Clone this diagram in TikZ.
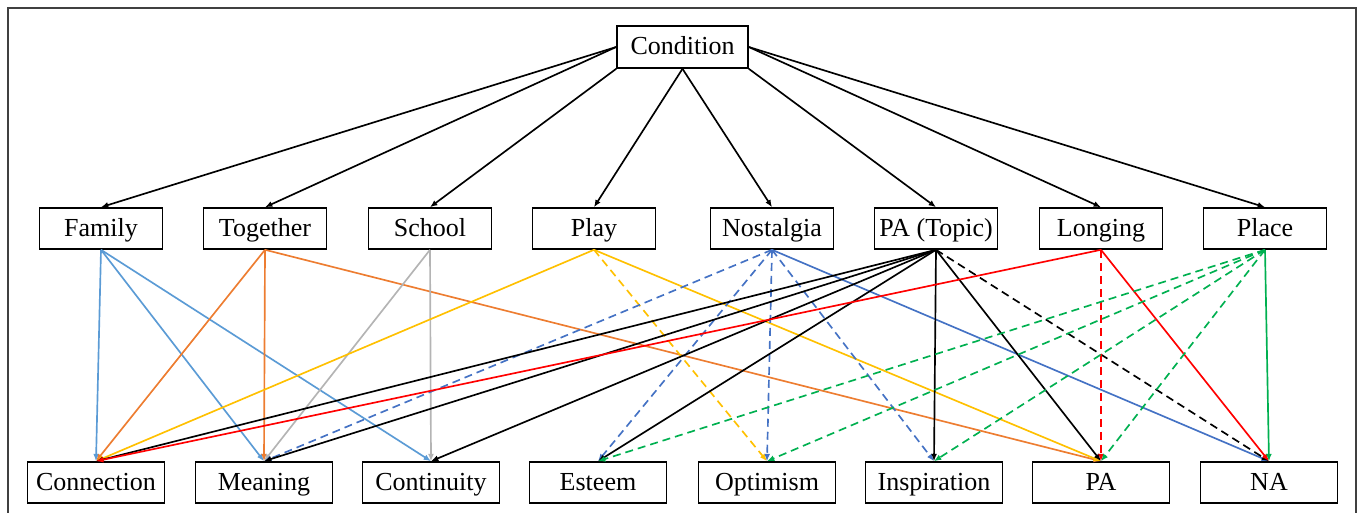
\documentclass[tikz,border=0pt]{standalone}
\usepackage{fontspec}
\setmainfont{Liberation Serif}
\usetikzlibrary{arrows.meta}
\definecolor{cFam}{HTML}{5B9BD5}
\definecolor{cOra}{HTML}{ED7D31}
\definecolor{cGray}{HTML}{B4B4B4}
\definecolor{cGold}{HTML}{FFC000}
\definecolor{cBlue}{HTML}{4472C4}
\definecolor{cRed}{HTML}{FF0000}
\definecolor{cGreen}{HTML}{00B050}
\begin{document}
\begin{tikzpicture}[x=0.75pt,y=-0.75pt,
  box/.style={draw, line width=1.2pt, inner sep=0pt, minimum height=30.75pt,
    text height=16pt, text depth=4pt, font=\fontsize{19.5}{23}\selectfont},
  mid/.style={box, minimum width=92.25pt},
  bot/.style={box, minimum width=102.75pt},
  arr/.style={line width=1.25pt, -{Latex[length=5.5pt,width=4.5pt]}},
  dsh/.style={dash pattern=on 6pt off 3.75pt}]
\useasboundingbox (0,0) rectangle (1364,513);
\draw[line width=1.6pt, black!75] (8,8) rectangle (1356,540);

\node[box, minimum width=98.25pt, minimum height=31.5pt] (cond) at (682.5,47) {Condition};

\node[mid] (family) at (101,228.5) {Family};
\node[mid] (together) at (265,228.5) {Together};
\node[mid] (school) at (430,228.5) {School};
\node[mid] (play) at (594,228.5) {Play};
\node[mid] (nost) at (772,228.5) {Nostalgia};
\node[mid] (pat) at (936,228.5) {PA (Topic)};
\node[mid] (long) at (1101,228.5) {Longing};
\node[mid] (place) at (1265,228.5) {Place};

\node[bot] (conn) at (96,482.5) {Connection};
\node[bot] (mean) at (264,482.5) {Meaning};
\node[bot] (cont) at (431,482.5) {Continuity};
\node[bot] (este) at (598,482.5) {Esteem};
\node[bot] (opti) at (767,482.5) {Optimism};
\node[bot] (insp) at (934,482.5) {Inspiration};
\node[bot] (pa) at (1101,482.5) {PA};
\node[bot] (na) at (1269,482.5) {NA};

% top level
\draw[arr] (cond.west) -- (family.north);
\draw[arr] (cond.west) -- (together.north);
\draw[arr] (cond.south west) -- (school.north);
\draw[arr] (cond.south) -- (play.north);
\draw[arr] (cond.south) -- (nost.north);
\draw[arr] (cond.south east) -- (pat.north);
\draw[arr] (cond.east) -- (long.north);
\draw[arr] (cond.east) -- (place.north);

% Family
\draw[arr, cFam] (family.south) -- (conn.north);
\draw[arr, cFam] (family.south) -- (mean.north);
\draw[arr, cFam] (family.south) -- (cont.north);
% Together
\draw[arr, cOra] (together.south) -- (conn.north);
\draw[arr, cOra] (together.south) -- (mean.north);
\draw[arr, cOra] (together.south) -- (pa.north);
% School
\draw[arr, cGray] (school.south) -- (mean.north);
\draw[arr, cGray] (school.south) -- (cont.north);
% Play
\draw[arr, cGold] (play.south) -- (conn.north);
\draw[arr, cGold, dsh] (play.south) -- (opti.north);
\draw[arr, cGold] (play.south) -- (pa.north);
% Nostalgia
\draw[arr, cBlue, dsh] (nost.south) -- (mean.north);
\draw[arr, cBlue, dsh] (nost.south) -- (este.north);
\draw[arr, cBlue, dsh] (nost.south) -- (opti.north);
\draw[arr, cBlue, dsh] (nost.south) -- (insp.north);
\draw[arr, cBlue] (nost.south) -- (na.north);
% PA (Topic)
\draw[arr] (pat.south) -- (conn.north);
\draw[arr] (pat.south) -- (mean.north);
\draw[arr] (pat.south) -- (cont.north);
\draw[arr] (pat.south) -- (este.north);
\draw[arr] (pat.south) -- (insp.north);
\draw[arr] (pat.south) -- (pa.north);
\draw[arr, dsh] (pat.south) -- (na.north);
% Longing
\draw[arr, cRed] (long.south) -- (conn.north);
\draw[arr, cRed, dsh] (long.south) -- (pa.north);
\draw[arr, cRed] (long.south) -- (na.north);
% Place
\draw[arr, cGreen, dsh] (place.south) -- (este.north);
\draw[arr, cGreen, dsh] (place.south) -- (opti.north);
\draw[arr, cGreen, dsh] (place.south) -- (insp.north);
\draw[arr, cGreen, dsh] (place.south) -- (pa.north);
\draw[arr, cGreen] (place.south) -- (na.north);
\end{tikzpicture}
\end{document}
